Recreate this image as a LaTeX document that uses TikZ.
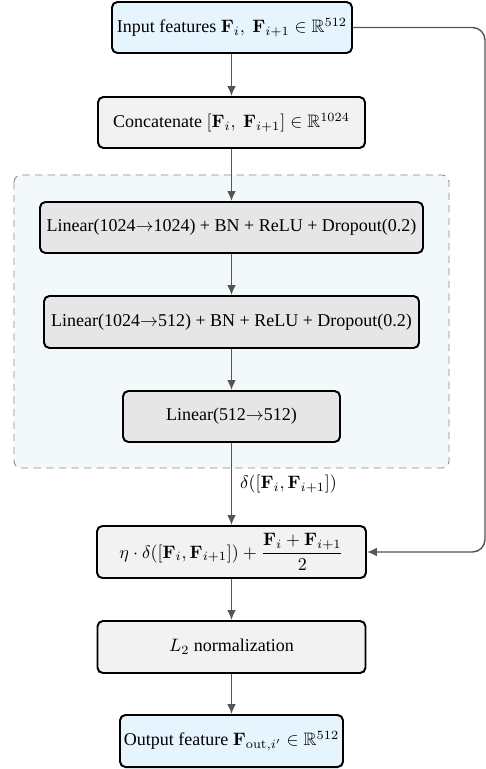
\documentclass[tikz,border=0pt]{standalone}
\usepackage{amsmath,amssymb}
\usepackage[no-math]{fontspec}
\setmainfont{Liberation Serif}
\usetikzlibrary{arrows.meta}
\definecolor{inblue}{HTML}{E6F4FD}
\definecolor{lgray}{HTML}{F2F2F2}
\definecolor{mgray}{HTML}{E6E6E6}
\definecolor{cyanbg}{HTML}{F3F9FA}
\definecolor{dashgray}{HTML}{8A8A8A}
\definecolor{arrgray}{HTML}{555555}
\def\u{0.5556pt}
\newcommand{\rar}{${\rightarrow}$}
\tikzset{
  box/.style={draw=black, line width=1.1pt, rounded corners=3pt, align=center, inner sep=2pt, font=\fontsize{10}{12}\selectfont},
  bluebox/.style={box, fill=inblue},
  lbox/.style={box, fill=lgray},
  mbox/.style={box, fill=mgray},
  conn/.style={draw=arrgray, line width=0.8pt, -{Latex[length=5.5pt,width=4.8pt]}},
}
\begin{document}
\begin{tikzpicture}[x=\u, y=-\u]
\useasboundingbox (0,0) rectangle (486,769);
\draw[dashgray, dashed, dash pattern=on 4pt off 3pt, fill=cyanbg, line width=0.5pt, rounded corners=4pt] (14,175) rectangle (449,468);
\node[bluebox, minimum width=240*\u, minimum height=51*\u] (in) at (232,27.5) {Input features $\mathbf{F}_i,\ \mathbf{F}_{i+1} \in \mathbb{R}^{512}$};
\node[lbox, minimum width=267*\u, minimum height=51*\u] (cat) at (231.5,122.5) {Concatenate $[\mathbf{F}_i,\ \mathbf{F}_{i+1}] \in \mathbb{R}^{1024}$};
\node[mbox, minimum width=383*\u, minimum height=51*\u] (l1) at (231.5,227.5) {Linear(1024\rar1024) + BN + ReLU + Dropout(0.2)};
\node[mbox, minimum width=375*\u, minimum height=52*\u] (l2) at (231.5,322) {Linear(1024\rar512) + BN + ReLU + Dropout(0.2)};
\node[mbox, minimum width=217*\u, minimum height=51*\u] (l3) at (231.5,416.5) {Linear(512\rar512)};
\node[lbox, minimum width=269*\u, minimum height=52*\u] (eta) at (231.5,552) {$\eta\cdot\delta([\mathbf{F}_i,\mathbf{F}_{i+1}]) + \dfrac{\mathbf{F}_i+\mathbf{F}_{i+1}}{2}$};
\node[lbox, minimum width=268*\u, minimum height=52*\u] (norm) at (231.5,647) {$L_2$ normalization};
\node[bluebox, minimum width=223*\u, minimum height=52*\u] (out) at (231.5,741) {Output feature $\mathbf{F}_{\mathrm{out},i'} \in \mathbb{R}^{512}$};
\coordinate (c1) at (485,27.5);
\coordinate (c2) at (485,552);
\draw[conn] (in.south -| cat.north) -- (cat.north);
\draw[conn] (cat) -- (l1);
\draw[conn] (l1) -- (l2);
\draw[conn] (l2) -- (l3);
\draw[conn] (l3) -- node[right, font=\fontsize{10}{12}\selectfont, xshift=1pt] {$\delta([\mathbf{F}_i,\mathbf{F}_{i+1}])$} (eta);
\draw[conn] (eta) -- (norm);
\draw[conn] (norm) -- (out);
\draw[conn, rounded corners=7pt] (in.east) -- (c1) -- (c2) -- (eta.east);
\end{tikzpicture}
\end{document}
